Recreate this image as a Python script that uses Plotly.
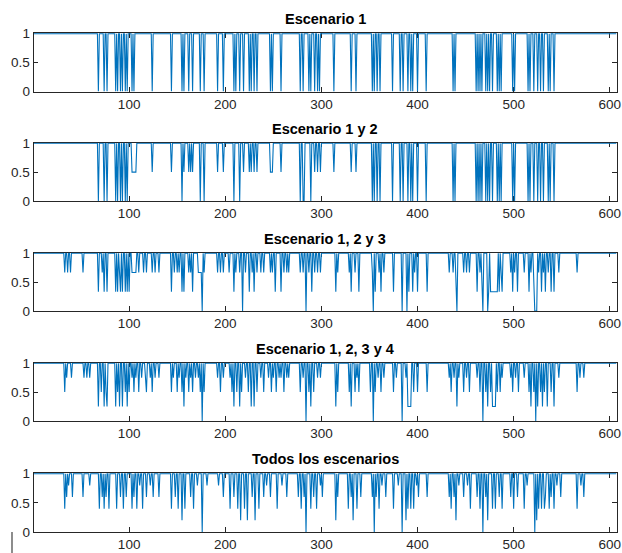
import plotly.graph_objects as go

N = 607
titles = ["Escenario 1", "Escenario 1 y 2", "Escenario 1, 2 y 3",
          "Escenario 1, 2, 3 y 4", "Todos los escenarios"]
x_ticks = [100, 200, 300, 400, 500, 600]
y_ticks = [0, 0.5, 1]
y_ticklabels = ["0", "0.5", "1"]

# Series are 1 everywhere except at the listed sample indices
s1_idx = [68, 74, 77, 86, 88, 91, 93, 96, 98, 103, 105, 124, 144, 155, 157, 162, 166, 174, 178,
          192, 198, 209, 211, 215, 219, 225, 227, 230, 233, 247, 249, 258, 278, 281, 287, 289,
          293, 296, 298, 313, 331, 336, 353, 355, 358, 361, 374, 382, 385, 390, 393, 395, 400,
          409, 437, 439, 461, 463, 465, 467, 471, 473, 475, 478, 483, 485, 487, 499, 501, 515,
          517, 521, 525, 528, 531, 536, 538, 542]
s1_val = [0] * 78

s2_idx = [68, 74, 77, 86, 88, 91, 93, 96, 98, 103, 104, 105, 106, 107, 124, 144, 155, 157, 162,
          164, 166, 174, 178, 192, 198, 209, 215, 219, 225, 227, 230, 233, 247, 248, 249, 258,
          278, 281, 282, 289, 293, 296, 299, 313, 331, 336, 353, 355, 358, 361, 374, 382, 385,
          390, 393, 395, 400, 409, 437, 439, 461, 463, 465, 467, 471, 473, 475, 478, 483, 485,
          487, 499, 501, 515, 517, 521, 525, 528, 531, 536, 538, 542]
s2_val = [0, 0, 0, 0, 0, 0, 0, 0, 0, 0.5, 0.5, 0.5, 0.5, 0.5, 0.5, 0.5, 0, 0.5, 0.5,
          0.5, 0.5, 0, 0, 0.5, 0.5, 0, 0, 0.5, 0.5, 0.5, 0.5, 0.5, 0.5, 0.5, 0.5, 0.5,
          0, 0, 0, 0, 0.5, 0.5, 0.5, 0.5, 0.5, 0.5, 0, 0, 0, 0, 0, 0, 0,
          0, 0, 0, 0, 0, 0, 0, 0, 0, 0, 0, 0, 0, 0, 0, 0, 0,
          0, 0, 0, 0, 0, 0, 0, 0, 0, 0, 0, 0]

s3_idx = [33, 36, 39, 52, 68, 72, 74, 77, 86, 88, 90, 91, 93, 96, 98, 100, 103, 104, 105, 106,
          107, 110, 115, 118, 124, 127, 131, 144, 147, 150, 152, 155, 157, 162, 164, 166, 172,
          173, 174, 175, 176, 178, 192, 195, 198, 204, 209, 211, 215, 218, 221, 225, 228, 230,
          233, 237, 240, 247, 249, 252, 258, 261, 264, 266, 278, 281, 284, 287, 290, 293, 296,
          299, 315, 317, 329, 331, 335, 339, 353, 354, 356, 360, 362, 365, 375, 384, 389, 391,
          395, 397, 400, 410, 433, 437, 440, 441, 448, 451, 454, 462, 465, 467, 468, 473, 474,
          476, 477, 478, 479, 480, 481, 482, 483, 485, 487, 488, 497, 499, 501, 504, 511, 516,
          518, 521, 522, 523, 524, 526, 529, 531, 533, 536, 539, 542, 547, 566]
s3_val = [0.667, 0.667, 0.667, 0.667, 0.333, 0.667, 0.333, 0.333, 0.333, 0.333, 0.667, 0.333,
          0.333, 0.333, 0.333, 0.333, 0.667, 0.667, 0.667, 0.667, 0.667, 0.667, 0.667, 0.667,
          0.667, 0.667, 0.667, 0.333, 0.667, 0.667, 0.667, 0.333, 0.333, 0.667, 0.667, 0.333,
          0.667, 0.667, 0.667, 0.667, 0, 0.667, 0.667, 0.667, 0.667, 0.667, 0.333, 0.667, 0.667,
          0, 0.667, 0.333, 0.667, 0.333, 0.667, 0.667, 0.667, 0.667, 0.667, 0.333, 0.333, 0.667,
          0.667, 0.667, 0.667, 0.667, 0, 0.667, 0.333, 0.667, 0.667, 0.667, 0.333, 0.667, 0.667,
          0.333, 0.667, 0.333, 0.667, 0, 0.333, 0.667, 0.333, 0.667, 0.333, 0, 0, 0.333, 0.333,
          0.667, 0.333, 0.333, 0.667, 0.667, 0.333, 0, 0.667, 0.667, 0.667, 0.333, 0.667, 0.333,
          0, 0, 0.333, 0.333, 0.333, 0.333, 0.333, 0.333, 0.333, 0.333, 0.333, 0.333, 0.667,
          0.333, 0.667, 0.333, 0.667, 0.333, 0.667, 0.333, 0.667, 0.333, 0, 0, 0, 0.667, 0.333,
          0.667, 0.333, 0.667, 0.333, 0.333, 0.667, 0.667]

s4_idx = [33, 35, 40, 53, 56, 59, 68, 71, 74, 76, 77, 86, 88, 90, 93, 96, 98, 100, 103, 105,
          107, 110, 113, 117, 118, 122, 124, 127, 131, 144, 146, 150, 152, 155, 157, 159, 162,
          164, 166, 169, 172, 174, 176, 178, 192, 195, 198, 205, 207, 209, 212, 215, 217, 221,
          224, 227, 230, 233, 237, 240, 245, 248, 250, 253, 256, 258, 261, 264, 266, 278, 281,
          284, 287, 289, 292, 296, 299, 315, 317, 329, 331, 335, 337, 339, 351, 354, 356, 359,
          362, 365, 375, 378, 384, 388, 390, 391, 392, 393, 396, 400, 410, 433, 435, 438, 441,
          443, 448, 451, 454, 462, 465, 468, 471, 473, 476, 478, 479, 480, 481, 483, 486, 488,
          497, 499, 502, 505, 511, 516, 518, 521, 523, 525, 528, 530, 532, 535, 539, 542, 547,
          566, 569, 573]
s4_val = [0.5, 0.75, 0.75, 0.75, 0.75, 0.75, 0.25, 0.5, 0.25, 0.5, 0.25, 0.25, 0.5, 0.25, 0.25,
          0.5, 0.25, 0.5, 0.75, 0.5, 0.75, 0.5, 0.75, 0.75, 0.5, 0.75, 0.5, 0.75, 0.75, 0.5, 0.75,
          0.5, 0.75, 0.5, 0.25, 0.75, 0.5, 0.75, 0.5, 0.75, 0.75, 0.5, 0, 0.5, 0.75, 0.5, 0.75,
          0.75, 0.5, 0.25, 0.5, 0.25, 0.5, 0.75, 0.5, 0.25, 0.25, 0.5, 0.75, 0.5, 0.75, 0.5, 0.75,
          0.5, 0.75, 0.75, 0.5, 0.75, 0.75, 0.5, 0.75, 0, 0.5, 0.25, 0.5, 0.75, 0.75, 0.25, 0.5,
          0.5, 0.25, 0.5, 0.75, 0.5, 0.5, 0, 0.5, 0.75, 0.5, 0.75, 0.5, 0.75, 0, 0.75, 0.25, 0.25,
          0.25, 0.25, 0.5, 0.5, 0.5, 0.75, 0.5, 0.75, 0.25, 0.75, 0.5, 0.75, 0.5, 0.75, 0.5, 0,
          0.5, 0.25, 0.5, 0.25, 0.25, 0.25, 0.25, 0.5, 0.5, 0.75, 0.75, 0.5, 0.75, 0.5, 0.75, 0.5,
          0.25, 0.5, 0, 0.25, 0.5, 0.25, 0.5, 0.25, 0.5, 0.25, 0.75, 0.5, 0.75, 0.75]

s5_idx = [33, 35, 37, 41, 52, 59, 69, 72, 74, 76, 79, 87, 91, 94, 97, 103, 105, 108, 111, 114,
          118, 122, 125, 131, 144, 148, 151, 155, 158, 164, 167, 171, 176, 181, 193, 198, 205,
          209, 213, 216, 220, 223, 228, 231, 235, 240, 243, 247, 254, 259, 264, 276, 279, 282,
          284, 289, 292, 295, 299, 301, 315, 317, 328, 331, 333, 337, 341, 353, 355, 357, 360,
          363, 367, 375, 380, 384, 388, 390, 393, 396, 399, 401, 410, 433, 435, 438, 440, 443,
          448, 452, 455, 462, 465, 468, 471, 473, 478, 481, 485, 488, 497, 500, 504, 511, 514,
          522, 524, 526, 529, 532, 533, 537, 539, 542, 545, 549, 566, 570, 573]
s5_val = [0.4, 0.6, 0.8, 0.6, 0.6, 0.8, 0.4, 0.6, 0.4, 0.6, 0.4, 0.4, 0.6, 0.4, 0.6, 0.4, 0.6,
          0.4, 0.8, 0.4, 0.6, 0.8, 0.6, 0.6, 0.4, 0.6, 0.4, 0.2, 0.4, 0.6, 0.4, 0.8, 0, 0.8, 0.8,
          0.6, 0.4, 0.6, 0.4, 0.2, 0.4, 0.2, 0.6, 0.2, 0.4, 0.6, 0.8, 0.6, 0.4, 0.8, 0.6, 0.6,
          0.4, 0.6, 0, 0.4, 0.6, 0.4, 0.8, 0.6, 0.2, 0.6, 0.4, 0.6, 0.2, 0.4, 0.6, 0.6, 0, 0.6,
          0.4, 0.8, 0.6, 0.4, 0.8, 0, 0.2, 0.4, 0.4, 0.4, 0.8, 0.6, 0.6, 0.6, 0.4, 0.6, 0.2, 0.8,
          0.6, 0.8, 0.4, 0.6, 0.4, 0, 0.6, 0.2, 0.4, 0.4, 0.6, 0.4, 0.6, 0.4, 0.6, 0.4, 0.8, 0,
          0.2, 0.4, 0.4, 0.4, 0.6, 0.4, 0.6, 0.4, 0.8, 0.6, 0.4, 0.8, 0.6]

series = [(s1_idx, s1_val), (s2_idx, s2_val), (s3_idx, s3_val), (s4_idx, s4_val), (s5_idx, s5_val)]

x = list(range(1, N + 1))


def build(idx, val):
    y = [1.0] * N
    for i, v in zip(idx, val):
        y[i - 1] = v
    return y


W, H = 622, 553
left_px, right_px = 33.5, 616.5
rows_px = [(33, 91.5), (142.5, 201), (252.5, 311), (362.5, 421), (473, 532)]

fig = go.Figure()
layout = dict(width=W, height=H, autosize=False, margin=dict(l=0, r=0, t=0, b=0, pad=0),
              paper_bgcolor="white", plot_bgcolor="white", showlegend=False,
              font=dict(family="Liberation Sans, Arial, sans-serif", color="#262626"))
annotations = []
axcol = "#262626"
for k, ((idx, val), title, (top, bot)) in enumerate(zip(series, titles, rows_px)):
    n = "" if k == 0 else str(k + 1)
    fig.add_trace(go.Scatter(x=x, y=build(idx, val), mode="lines",
                             line=dict(color="#0072BD", width=1.1),
                             xaxis="x" + n, yaxis="y" + n, hoverinfo="skip"))
    xd = [left_px / W, right_px / W]
    yd = [1 - bot / H, 1 - top / H]
    common = dict(showline=True, linecolor=axcol, linewidth=0.8, mirror="allticks",
                  ticks="inside", ticklen=5, tickcolor=axcol, tickwidth=0.8,
                  showgrid=False, zeroline=False, layer="below traces", automargin=False,
                  tickfont=dict(size=13.5, color="#262626"))
    layout["xaxis" + n] = dict(domain=xd, anchor="y" + n, range=[0.5, 607],
                               tickvals=x_ticks, **common)
    layout["yaxis" + n] = dict(domain=yd, anchor="x" + n, range=[0, 1.012],
                               tickvals=y_ticks, ticktext=y_ticklabels, **common)
    annotations.append(dict(text="<b>" + title + "</b>", x=(xd[0] + xd[1]) / 2, y=yd[1],
                            xref="paper", yref="paper", xanchor="center", yanchor="bottom",
                            yshift=4, showarrow=False,
                            font=dict(size=14.5, color="#000000")))
layout["annotations"] = annotations
layout["shapes"] = [dict(type="line", xref="paper", yref="paper",
                         x0=12 / W, x1=12 / W, y0=0, y1=1 - 532 / H,
                         line=dict(color="#404040", width=1.2))]
fig.update_layout(**layout)
fig.write_html("out.html", config={"displayModeBar": False, "responsive": False},
               post_script="document.body.style.margin='0';document.body.style.overflow='hidden';")
